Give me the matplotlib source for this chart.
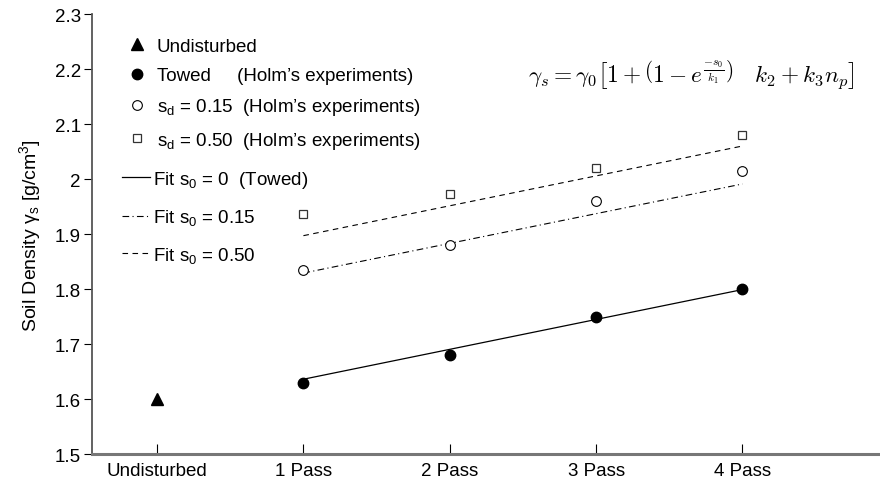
import numpy as np
import matplotlib.pyplot as plt
from matplotlib.lines import Line2D

plt.rcParams['font.family'] = ['Liberation Sans', 'DejaVu Sans']
plt.rcParams['mathtext.fontset'] = 'custom'
plt.rcParams['mathtext.rm'] = 'Liberation Sans'
plt.rcParams['mathtext.it'] = 'Liberation Sans'

# data
categories = ['Undisturbed', '1 Pass', '2 Pass', '3 Pass', '4 Pass']
undisturbed = [1.60]
passes = [1, 2, 3, 4]
towed = [1.63, 1.68, 1.75, 1.80]
sd015 = [1.834, 1.88, 1.96, 2.015]
sd050 = [1.937, 1.973, 2.02, 2.08]
fit_x = [1, 4]
fit_towed = [1.636, 1.799]
fit_015 = [1.829, 1.991]
fit_050 = [1.897, 2.06]

fs = 13.5
fig = plt.figure(figsize=(8.8, 4.81), dpi=100)
ax = fig.add_axes([0.1045, 0.054, 0.8955, 0.9148])

ln_t, = ax.plot(fit_x, fit_towed, '-', color='black', lw=0.9)
ln_15, = ax.plot(fit_x, fit_015, color='black', lw=0.8, dashes=(6, 3, 1, 3))
ln_50, = ax.plot(fit_x, fit_050, color='black', lw=0.8, dashes=(5, 4))

m_u, = ax.plot([0], undisturbed, '^', color='black', ms=8, ls='none')
m_t, = ax.plot(passes, towed, 'o', color='black', ms=7.5, ls='none')
m_15, = ax.plot(passes, sd015, 'o', mfc='white', mec='black', mew=0.8, ms=7, ls='none')
m_50, = ax.plot(passes, sd050, 's', mfc='white', mec='#333333', mew=0.9, ms=5.5, ls='none')

ax.set_xlim(-0.445, 4.94)
ax.set_ylim(1.5, 2.3)
ax.set_xticks(range(len(categories)))
ax.set_xticklabels(categories)
ax.set_yticks(np.arange(1.5, 2.31, 0.1))
ax.set_yticklabels(['1.5', '1.6', '1.7', '1.8', '1.9', '2', '2.1', '2.2', '2.3'])
ax.tick_params(axis='y', direction='out', length=6, width=0.8, labelsize=fs, pad=2)
ax.tick_params(axis='x', direction='in', length=7, width=0.8, labelsize=fs, pad=6)
for s in ['top', 'right']:
    ax.spines[s].set_visible(False)
ax.spines['left'].set_color('#555555')
ax.spines['left'].set_linewidth(1.3)
ax.spines['bottom'].set_color('#777777')
ax.spines['bottom'].set_linewidth(2.2)
ax.set_ylabel('Soil Density γ$_\\mathregular{s}$ [g/cm$^\\mathregular{3}$]', fontsize=14, labelpad=8)

leg1 = ax.legend([m_u, m_t, m_15, m_50],
                 ['Undisturbed',
                  'Towed     (Holm\u2019s experiments)',
                  's$_\\mathregular{d}$ = 0.15  (Holm\u2019s experiments)',
                  's$_\\mathregular{d}$ = 0.50  (Holm\u2019s experiments)'],
                 loc='upper left', bbox_to_anchor=(0.044, 0.946), frameon=False,
                 fontsize=fs, borderpad=0, borderaxespad=0, handlelength=1.1,
                 handletextpad=0.5, labelspacing=0.65)
ax.add_artist(leg1)
ax.legend([ln_t, ln_15, ln_50],
          ['Fit s$_\\mathregular{0}$ = 0  (Towed)',
           'Fit s$_\\mathregular{0}$ = 0.15',
           'Fit s$_\\mathregular{0}$ = 0.50'],
          loc='upper left', bbox_to_anchor=(0.038, 0.648), frameon=False,
          fontsize=fs, borderpad=0, borderaxespad=0, handlelength=1.5,
          handletextpad=0.15, labelspacing=0.93)

ax.text(0.761, 0.864,
        r'$\gamma_s = \gamma_0\left[1 + \left(1 - e^{\frac{-s_0}{k_1}}\right)\quad k_2 + k_3 n_p\right]$',
        transform=ax.transAxes, ha='center', va='center', fontsize=16.8,
        math_fontfamily='cm')

fig.savefig('out.png', dpi=100)
